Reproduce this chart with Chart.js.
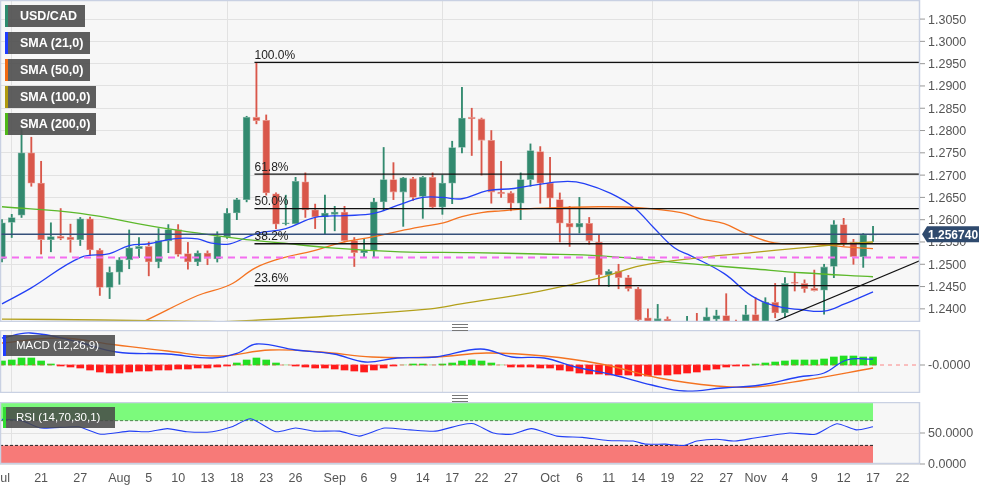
<!DOCTYPE html>
<html><head><meta charset="utf-8">
<script src="https://cdn.jsdelivr.net/npm/chart.js@4"></script>
<style>
body{margin:0;background:#fff;width:997px;height:490px;overflow:hidden;font-family:"Liberation Sans",Arial,sans-serif}
canvas{position:absolute;left:0}
.lg{position:absolute;left:5px;height:22px;background:rgba(80,80,80,0.92);color:#fff;font-weight:bold;font-size:12.5px;line-height:22px;padding-left:12px;box-sizing:border-box;border-left:3px solid}
.sm{position:absolute;left:3px;height:21px;background:rgba(70,70,70,0.85);color:#fff;font-size:11.5px;line-height:21px;padding-left:10px;box-sizing:border-box;border-left:3px solid}
.hd{position:absolute;left:452px;width:16px;height:5px;border-top:1px solid #777;border-bottom:1px solid #777}
.hd:after{content:"";position:absolute;left:0;right:0;top:2px;border-top:1px solid #777}
</style></head><body>
<canvas id="main" width="997" height="322" style="top:0"></canvas>
<canvas id="macd" width="997" height="63" style="top:330px"></canvas>
<canvas id="rsi" width="997" height="88" style="top:402px"></canvas>
<div class="lg" style="top:5px;width:80px;border-color:#2e8b6e">USD/CAD</div>
<div class="lg" style="top:32px;width:85px;border-color:#1f3cff">SMA (21,0)</div>
<div class="lg" style="top:59px;width:85px;border-color:#f26a12">SMA (50,0)</div>
<div class="lg" style="top:86px;width:91px;border-color:#b09a10">SMA (100,0)</div>
<div class="lg" style="top:113px;width:91px;border-color:#4fb81a">SMA (200,0)</div>
<div class="sm" style="top:335px;width:112px;border-color:#1f3cff">MACD (12,26,9)</div>
<div class="sm" style="top:407px;width:112px;border-color:#33dd33">RSI (14,70,30,1)</div>
<div class="hd" style="top:324px"></div>
<div class="hd" style="top:395px"></div>
<script>
const opens=[1.2512,1.2594,1.2610,1.2750,1.2682,1.2555,1.2563,1.2561,1.2555,1.2602,1.2532,1.2448,1.2482,1.2510,1.2535,1.2540,1.2505,1.2553,1.2578,1.2524,1.2505,1.2525,1.2512,1.2562,1.2615,1.2645,1.2830,1.2823,1.2658,1.2591,1.2591,1.2685,1.2622,1.2606,1.2612,1.2617,1.2553,1.2526,1.2530,1.2640,1.2690,1.2662,1.2692,1.2652,1.2695,1.2628,1.2682,1.2762,1.2830,1.2826,1.2778,1.2662,1.2660,1.2637,1.2690,1.2753,1.2682,1.2645,1.2592,1.2583,1.2592,1.2550,1.2476,1.2484,1.2470,1.2445,1.2380,1.2350,1.2377,1.2340,1.2330,1.2360,1.2350,1.2377,1.2385,1.2350,1.2330,1.2387,1.2345,1.2415,1.2391,1.2460,1.2457,1.2446,1.2442,1.2495,1.2589,1.2549,1.2517,1.2565];
const highs=[1.2600,1.2612,1.2805,1.2785,1.2731,1.2593,1.2625,1.2590,1.2605,1.2606,1.2535,1.2494,1.2515,1.2577,1.2560,1.2550,1.2580,1.2589,1.2589,1.2549,1.2530,1.2530,1.2573,1.2625,1.2648,1.2832,1.2951,1.2835,1.2660,1.2655,1.2695,1.2705,1.2635,1.2655,1.2630,1.2630,1.2560,1.2558,1.2648,1.2762,1.2728,1.2695,1.2695,1.2697,1.2705,1.2700,1.2776,1.2897,1.2850,1.2828,1.2800,1.2731,1.2663,1.2705,1.2770,1.2764,1.2740,1.2660,1.2630,1.2650,1.2605,1.2565,1.2488,1.2500,1.2475,1.2448,1.2400,1.2410,1.2382,1.2372,1.2383,1.2390,1.2402,1.2397,1.2434,1.2375,1.2408,1.2425,1.2425,1.2457,1.2470,1.2480,1.2465,1.2487,1.2500,1.2598,1.2603,1.2556,1.2569,1.2585];
const lows=[1.2505,1.2560,1.2605,1.2675,1.2523,1.2528,1.2555,1.2527,1.2542,1.2520,1.2430,1.2423,1.2455,1.2490,1.2515,1.2474,1.2492,1.2526,1.2518,1.2489,1.2497,1.2499,1.2505,1.2558,1.2600,1.2640,1.2815,1.2655,1.2580,1.2588,1.2590,1.2605,1.2580,1.2568,1.2575,1.2550,1.2495,1.2517,1.2515,1.2620,1.2645,1.2585,1.2643,1.2603,1.2625,1.2612,1.2636,1.2750,1.2744,1.2700,1.2637,1.2650,1.2620,1.2600,1.2675,1.2637,1.2625,1.2550,1.2540,1.2570,1.2545,1.2452,1.2450,1.2445,1.2440,1.2360,1.2360,1.2330,1.2320,1.2300,1.2290,1.2300,1.2320,1.2340,1.2310,1.2300,1.2310,1.2340,1.2330,1.2380,1.2380,1.2440,1.2437,1.2440,1.2388,1.2470,1.2541,1.2500,1.2493,1.2551];
const closes=[1.2593,1.2605,1.2750,1.2682,1.2555,1.2562,1.2558,1.2555,1.2602,1.2532,1.2448,1.2482,1.2510,1.2537,1.2540,1.2505,1.2553,1.2578,1.2522,1.2505,1.2525,1.2513,1.2562,1.2615,1.2645,1.2830,1.2822,1.2660,1.2590,1.2593,1.2686,1.2622,1.2606,1.2615,1.2617,1.2553,1.2526,1.2532,1.2640,1.2690,1.2662,1.2694,1.2650,1.2695,1.2628,1.2682,1.2762,1.2828,1.2826,1.2778,1.2662,1.2658,1.2637,1.2690,1.2755,1.2682,1.2648,1.2592,1.2583,1.2592,1.2553,1.2476,1.2484,1.2470,1.2445,1.2375,1.2370,1.2378,1.2350,1.2360,1.2355,1.2340,1.2382,1.2385,1.2350,1.2340,1.2387,1.2355,1.2415,1.2391,1.2457,1.2457,1.2445,1.2441,1.2494,1.2589,1.2546,1.2517,1.2566,1.25674];
const sma21=[[0,1.2411],[3,1.2447],[8,1.2515],[11,1.2524],[13,1.2542],[15,1.2546],[17.5,1.2557],[20,1.2557],[21.3,1.2548],[23.3,1.2546],[26,1.2569],[29,1.2580],[32,1.2605],[35,1.2609],[38,1.2614],[40.4,1.2632],[43,1.2650],[45,1.2650],[47,1.2647],[49.6,1.2665],[52.3,1.2670],[55.4,1.2681],[57.8,1.2686],[59.5,1.2681],[62.2,1.2659],[64.6,1.2627],[66.6,1.2582],[68.7,1.2537],[70.4,1.2519],[73.8,1.2479],[76.6,1.2429],[78.9,1.2407],[81.7,1.2398],[84,1.2395],[86.1,1.2411],[89,1.2438]];
const sma50=[[10,1.2330],[14.4,1.2371],[20,1.2430],[23.3,1.2454],[25.9,1.2492],[28.8,1.2515],[31.8,1.2530],[34.6,1.2548],[38,1.2562],[40.7,1.2575],[42.8,1.2584],[45.1,1.2593],[47,1.2607],[49,1.2616],[51,1.2620],[54,1.2625],[57,1.2627],[61,1.2629],[65,1.2627],[69.4,1.2616],[71.4,1.2602],[73.8,1.2591],[76,1.2569],[78.9,1.2548],[82.7,1.2546],[86.1,1.2539],[89,1.2535]];
const sma100=[[0,1.2377],[10,1.2375],[20,1.2372],[23.3,1.2372],[33.6,1.2384],[43.8,1.2400],[46.9,1.2411],[55,1.2440],[61.2,1.2470],[65.3,1.2497],[71.4,1.2515],[76.6,1.2526],[81.7,1.2537],[86.1,1.2546],[89,1.2550]];
const sma200=[[0,1.2629],[8,1.2614],[16.2,1.2582],[24.4,1.2557],[28.5,1.2548],[33.6,1.2537],[40.7,1.2528],[47.9,1.2526],[55,1.2523],[61.2,1.2519],[71.4,1.2499],[76.6,1.2490],[81.7,1.2481],[89,1.2472]];
const trendLine=[[78.9,1.2371],[94,1.2510]];
const fibLevels=[1.2953,1.2702,1.2625,1.2546,1.2452];
const fibNames=["100.0%","61.8%","50.0%","38.2%","23.6%"];
const fibStart=25.8;
const lastPrice=1.25674;
const pinkLevel=1.2515;
const priceTicks=[1.2400,1.2450,1.2500,1.2550,1.2600,1.2650,1.2700,1.2750,1.2800,1.2850,1.2900,1.2950,1.3000,1.3050];
const macdLine=[[0,0.0027],[2.9,0.0032],[7.8,0.0023],[11.7,0.0013],[16.9,0.0011],[21.5,0.0007],[24.1,0.0012],[26,0.0021],[30,0.0015],[33.9,0.0011],[37.1,0.0003],[40.4,0.0007],[44.3,0.0008],[48.9,0.0016],[52.1,0.0008],[55.4,0.0007],[58.6,-0.0002],[62.5,-0.0010],[66.4,-0.0020],[69.7,-0.0026],[73.6,-0.0023],[77.5,-0.0020],[81.4,-0.0012],[84,-0.0008],[86.3,0.0005],[89,0.0006]];
const signalLine=[[0,0.0022],[5.9,0.0027],[11.7,0.0020],[16.9,0.0014],[22.1,0.0009],[27.4,0.0015],[32.6,0.0013],[37.8,0.0008],[44.3,0.0008],[49.5,0.0012],[55.4,0.0009],[61.2,0.0001],[67.1,-0.0013],[73,-0.0021],[76.9,-0.0022],[82.1,-0.0015],[89,-0.0003]];
const histogram=[0.0004,0.0005,0.0007,0.0007,0.0004,0.0001,-0.0001,-0.0002,-0.0003,-0.0005,-0.0007,-0.0008,-0.0008,-0.0007,-0.0006,-0.0006,-0.0005,-0.0005,-0.0004,-0.0004,-0.0003,-0.0003,-0.0002,-0.0001,0.0002,0.0005,0.0007,0.0005,0.0002,0.00002,-0.0001,-0.0002,-0.0003,-0.0003,-0.0004,-0.0005,-0.0006,-0.0007,-0.0005,-0.0003,-0.0001,0.00002,0.0001,0.0001,0.00002,0.0001,0.0002,0.0004,0.0005,0.0004,0.0002,0.00002,-0.0002,-0.0002,-0.0002,-0.0003,-0.0003,-0.0005,-0.0006,-0.0008,-0.0009,-0.0009,-0.0010,-0.0010,-0.0010,-0.0011,-0.0011,-0.0010,-0.0010,-0.0009,-0.0008,-0.0007,-0.0005,-0.0004,-0.0002,-0.0001,-0.0001,0.0001,0.0002,0.0003,0.0004,0.0005,0.0005,0.0005,0.0006,0.0008,0.0009,0.0009,0.0008,0.0008];
const macdTicks=[0];
const rsiLine=[[0,72],[2,70],[4,58],[7.8,60],[10.1,48],[13,53],[15,52],[16.9,57],[18.9,52],[21.5,52],[23.5,60],[25.4,73],[28,52],[30,58],[31.9,53],[34.5,53],[36.5,45],[39.1,58],[41.7,55],[44.3,53],[46.9,63],[48.2,65],[50.2,50],[52.1,48],[54.1,57],[56.7,45],[59.3,43],[61.9,38],[64.5,37],[65.8,32],[67.8,32],[69.7,30],[71,37],[73,40],[74.9,37],[76.9,42],[78.2,45],[80.5,50],[83.1,48],[85.3,65],[87.3,55],[89,60]];
const rsiBands=[[70,100],[0,30]];
const rsiTicks=[0,50];
const tickIdx=[0,4,8,12,15,18,21,24,27,30,34,37,40,43,46,49,52,56,59,62,65,68,71,74,77,80,83,86,89,92];
const tickText=["Jul","21","27","Aug","5","10","13","18","23","26","Sep","6","9","14","17","22","27","Oct","6","11","14","19","22","27","Nov","4","9","12","17","22"];
const monthIdx=[12,34,56,77];

const GREEN='#328a6f',RED='#d9574a';
const FONT='12.5px "Liberation Sans",Arial';
const pts=a=>a.map(p=>({x:p[0],y:p[1]}));
const xMin=-0.2,xMax=93.8;
const bgPlugin={id:'bg',beforeDraw(c){const a=c.chartArea,x=c.ctx;x.save();x.fillStyle='#f7f7f7';x.fillRect(a.left,a.top,a.right-a.left,a.bottom-a.top);x.restore();},
 afterDraw(c){const a=c.chartArea,x=c.ctx;x.save();x.strokeStyle='#c9d1e3';x.lineWidth=1.5;x.strokeRect(a.left+0.5,a.top+0.5,a.right-a.left-1,a.bottom-a.top-1);x.restore();}};
// y labels drawn from the scale (avoids auto padding)
const yLabels=(vals,fmt)=>({id:'yl',afterDraw(c){const ys=c.scales.y,x=c.ctx,a=c.chartArea;x.save();x.font=FONT;x.fillStyle='#555';x.textBaseline='middle';
  vals.forEach(v=>{const y=ys.getPixelForValue(v);x.strokeStyle='#999';x.lineWidth=1;x.beginPath();x.moveTo(a.right,y);x.lineTo(a.right+5,y);x.stroke();x.fillText(fmt(v),a.right+8,y+1);});x.restore();}});
const fitR=s=>{s.width=77;};
const yBase=(min,max,vals,grid)=>({position:'right',min,max,afterBuildTicks:s=>{s.ticks=vals.map(v=>({value:v}));},afterFit:fitR,
  ticks:{display:false},grid:grid?{color:'#e2e2e2',drawTicks:false}:{display:false},border:{display:false}});
const xMonthGrid={type:'linear',min:xMin,max:xMax,offset:false,
  afterBuildTicks:s=>{s.ticks=monthIdx.map(v=>({value:v}));},
  ticks:{display:false},grid:{color:'#e2e2e2',drawTicks:false},border:{display:false},afterFit:s=>{s.height=0;}};
Chart.defaults.font.family='"Liberation Sans",Arial,sans-serif';
Chart.defaults.animation=false;

const mainPlugin={id:'mainDeco',afterDatasetsDraw(c){
  const x=c.ctx,xs=c.scales.x,ys=c.scales.y;x.save();
  x.font='12px "Liberation Sans",Arial';x.fillStyle='#222';x.textBaseline='bottom';
  fibLevels.forEach((v,i)=>{x.fillText(fibNames[i],xs.getPixelForValue(fibStart),ys.getPixelForValue(v)-1);});
  x.restore();},
 afterDraw(c){const x=c.ctx,ys=c.scales.y;x.save();
  const y=ys.getPixelForValue(lastPrice),l=c.chartArea.right+2;
  x.fillStyle='#2f4a6e';x.beginPath();x.moveTo(l,y);x.lineTo(l+5,y-8);x.lineTo(l+57,y-8);x.lineTo(l+57,y+8);x.lineTo(l+5,y+8);x.closePath();x.fill();
  x.fillStyle='#fff';x.font='bold 12px "Liberation Sans",Arial';x.textBaseline='middle';x.fillText(lastPrice.toFixed(6),l+6,y+1);
  x.restore();}};

const hline=(v,from,color,w,dash)=>({type:'line',data:[{x:from,y:v},{x:xMax,y:v}],borderColor:color,borderWidth:w,borderDash:dash||[],pointRadius:0,order:1});
const smaDs=(d,c)=>({type:'line',data:pts(d),borderColor:c,borderWidth:1.3,pointRadius:0,tension:0.4,order:2});
const up=closes.map((c,i)=>c>=opens[i]);
const baseOpts=(y)=>({responsive:false,layout:{padding:0},plugins:{legend:{display:false},tooltip:{enabled:false},filler:{propagate:false}},scales:{x:xMonthGrid,y}});

new Chart(document.getElementById('main'),{type:'bar',
 data:{datasets:[
  {data:lows.map((l,i)=>({x:i,y:[l,highs[i]]})),backgroundColor:up.map(u=>u?GREEN:RED),barThickness:1.2,grouped:false,order:11},
  {data:opens.map((o,i)=>({x:i,y:[o,closes[i]]})),backgroundColor:up.map(u=>u?GREEN:RED),borderColor:up.map(u=>u?'#7fb5a5':'#eaa49b'),borderWidth:0.8,borderSkipped:false,barThickness:7,grouped:false,order:10},
  smaDs(sma200,'#5cb82a'),smaDs(sma100,'#b3a01a'),smaDs(sma50,'#f47321'),smaDs(sma21,'#2340f5'),
  ...fibLevels.map(v=>hline(v,fibStart,'#111',1.3)),
  hline(lastPrice,xMin,'#35507a',1.5),
  hline(pinkLevel,xMin,'#f46ef0',2,[7,5]),
  {type:'line',data:pts(trendLine),borderColor:'#111',borderWidth:1.2,pointRadius:0,order:1}
 ]},
 options:baseOpts(yBase(1.23705,1.30928,priceTicks,true)),
 plugins:[bgPlugin,yLabels(priceTicks,v=>v.toFixed(4)),mainPlugin]});

new Chart(document.getElementById('macd'),{type:'bar',
 data:{datasets:[
  {type:'line',data:pts(macdLine),borderColor:'#2340f5',borderWidth:1.3,pointRadius:0,tension:0.4,order:1},
  {type:'line',data:pts(signalLine),borderColor:'#f47321',borderWidth:1.3,pointRadius:0,tension:0.4,order:1},
  {data:histogram.map((v,i)=>({x:i,y:v})),backgroundColor:histogram.map(v=>v>0.00005?'#22e022':(v<-0.00005?'#ff1a1a':'#9be89b')),barThickness:7,grouped:false,order:5},
  hline(0,xMin,'rgba(255,60,60,0.6)',1,[4,4])
 ]},
 options:baseOpts(yBase(-0.0028,0.0035,macdTicks,false)),
 plugins:[bgPlugin,yLabels(macdTicks,()=>'-0.0000')]});

const xLabels={id:'xl',afterDraw(c){const xs=c.scales.x,x=c.ctx,a=c.chartArea;x.save();x.font=FONT;x.fillStyle='#555';x.textAlign='center';x.textBaseline='top';
  tickIdx.forEach((v,i)=>x.fillText(tickText[i],xs.getPixelForValue(v),a.bottom+8));x.restore();}};
const rsiX={...xMonthGrid,afterFit:s=>{s.height=26;}};
const rsiOpts=baseOpts(yBase(0,100,rsiTicks,true));rsiOpts.scales.x=rsiX;
new Chart(document.getElementById('rsi'),{type:'bar',
 data:{datasets:[
  {type:'line',data:[{x:xMin,y:rsiBands[0][1]},{x:89,y:rsiBands[0][1]}],borderColor:'#222',borderWidth:1,pointRadius:0,fill:'+1',backgroundColor:'#7cfa7c',order:3},
  {type:'line',data:[{x:xMin,y:rsiBands[0][0]},{x:89,y:rsiBands[0][0]}],borderColor:'#222',borderWidth:1,borderDash:[3,2],pointRadius:0,order:3},
  {type:'line',data:[{x:xMin,y:rsiBands[1][1]},{x:89,y:rsiBands[1][1]}],borderColor:'#222',borderWidth:1,borderDash:[3,2],pointRadius:0,fill:'+1',backgroundColor:'#f77a78',order:3},
  {type:'line',data:[{x:xMin,y:rsiBands[1][0]},{x:89,y:rsiBands[1][0]}],borderColor:'#222',borderWidth:1,pointRadius:0,order:3},
  {type:'line',data:pts(rsiLine),borderColor:'#2340f5',borderWidth:1.1,pointRadius:0,tension:0.2,order:1}
 ]},
 options:rsiOpts,
 plugins:[bgPlugin,yLabels(rsiTicks,v=>v.toFixed(4)),xLabels]});
</script></body></html>
